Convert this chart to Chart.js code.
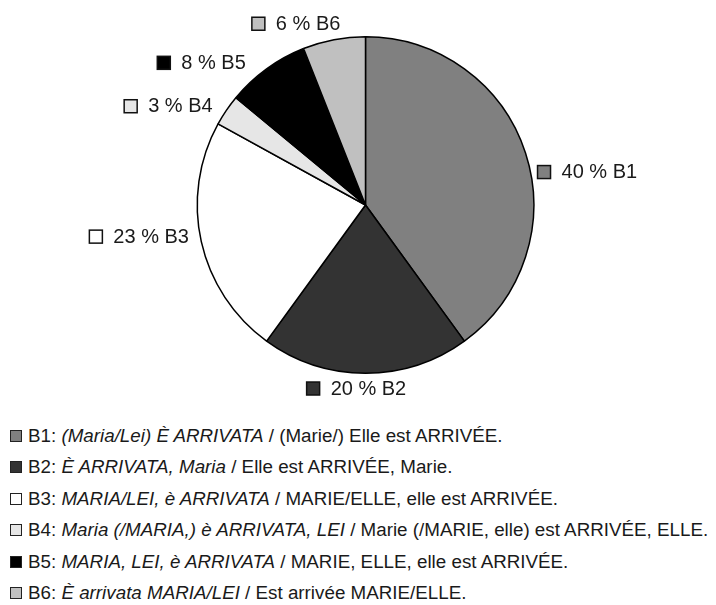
<!DOCTYPE html>
<html>
<head>
<meta charset="utf-8">
<script src="https://cdn.jsdelivr.net/npm/chart.js@4.4.0/dist/chart.umd.min.js"></script>
<style>
body { margin:0; background:#fff; font-family:"Liberation Sans", Arial, sans-serif; color:#1a1a1a; }
#wrap { position:relative; width:716px; height:605px; }
#legend { position:absolute; left:0; top:420px; }
.row { height:31.4px; line-height:31.4px; font-size:18.8px; white-space:nowrap; }
.box { display:inline-block; width:10px; height:10px; border:1.5px solid #222; margin-left:10px; margin-right:6px; vertical-align:0px; }
</style>
</head>
<body>
<div id="wrap">
<canvas id="myChart" width="716" height="415"></canvas>
<div id="legend"></div>
</div>
<script>
var categories = ["B1", "B2", "B3", "B4", "B5", "B6"];
var percents = [40, 20, 23, 3, 8, 6];
var sliceColors = ["#808080", "#333333", "#ffffff", "#e6e6e6", "#000000", "#c0c0c0"];

// legend lines: [plain prefix, italic part, plain rest]
var legendLines = [
    ["B1: ", "(Maria/Lei) È ARRIVATA", " / (Marie/) Elle est ARRIVÉE."],
    ["B2: ", "È ARRIVATA, Maria", " / Elle est ARRIVÉE, Marie."],
    ["B3: ", "MARIA/LEI, è ARRIVATA", " / MARIE/ELLE, elle est ARRIVÉE."],
    ["B4: ", "Maria (/MARIA,) è ARRIVATA, LEI", " / Marie (/MARIE, elle) est ARRIVÉE, ELLE."],
    ["B5: ", "MARIA, LEI, è ARRIVATA", " / MARIE, ELLE, elle est ARRIVÉE."],
    ["B6: ", "È arrivata MARIA/LEI", " / Est arrivée MARIE/ELLE."]
];

// where each outside label sits around the pie (degrees clockwise from top, gap past the rim)
var labelAngles = [79, 183, 260, 303, 320, 338];
var labelGaps = [7, 5, 11, 14, 18, 17];

var outsideLabels = {
    id: 'outsideLabels',
    afterDatasetsDraw: function(chart) {
        var ctx = chart.ctx;
        var arcs = chart.getDatasetMeta(0).data;
        ctx.save();
        ctx.font = '20px "Liberation Sans", Arial, sans-serif';
        ctx.textBaseline = 'middle';
        for (var i = 0; i < arcs.length; i++) {
            var arc = arcs[i];
            var a = labelAngles[i] * Math.PI / 180;
            var s = Math.sin(a), c = Math.cos(a);
            var dist = arc.outerRadius + labelGaps[i];
            var ax = arc.x + dist * s;
            var ay = arc.y - dist * c;
            var txt = percents[i] + ' % ' + categories[i];
            var tw = ctx.measureText(txt).width;
            var w = 13 + 11 + tw, h = 20;
            var left, cy;
            if (Math.abs(s) >= 0.5) {
                cy = ay;
                left = s > 0 ? ax : ax - w;
            } else {
                left = ax - w / 2;
                cy = c > 0 ? ay - h / 2 : ay + h / 2;
            }
            ctx.fillStyle = sliceColors[i];
            ctx.fillRect(left, cy - 6, 13, 13);
            ctx.strokeStyle = '#111';
            ctx.lineWidth = 1.5;
            ctx.strokeRect(left, cy - 6, 13, 13);
            ctx.fillStyle = '#1a1a1a';
            ctx.fillText(txt, left + 24, cy + 1);
        }
        ctx.restore();
    }
};

window.onload = function() {
    var ctx = document.getElementById('myChart');
    var myChart = new Chart(ctx, {
        type: 'pie',
        data: {
            labels: categories,
            datasets: [{
                data: percents,
                backgroundColor: sliceColors,
                borderColor: '#000',
                borderWidth: 1.5
            }]
        },
        options: {
            responsive: false,
            animation: false,
            layout: { padding: { left: 196, right: 181, top: 36, bottom: 41 } },
            plugins: {
                legend: { display: false },
                tooltip: { enabled: false }
            }
        },
        plugins: [outsideLabels]
    });

    var legend = document.getElementById('legend');
    for (var i = 0; i < legendLines.length; i++) {
        var row = document.createElement('div');
        row.className = 'row';
        var box = document.createElement('span');
        box.className = 'box';
        box.style.background = sliceColors[i];
        row.appendChild(box);
        row.appendChild(document.createTextNode(legendLines[i][0]));
        var it = document.createElement('i');
        it.textContent = legendLines[i][1];
        row.appendChild(it);
        row.appendChild(document.createTextNode(legendLines[i][2]));
        legend.appendChild(row);
    }
};
</script>
</body>
</html>
